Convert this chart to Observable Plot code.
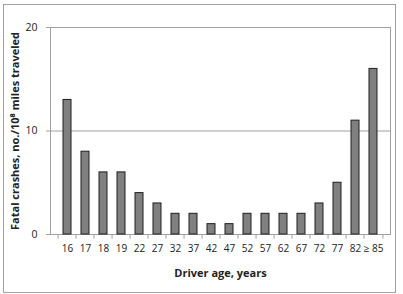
<!DOCTYPE html>
<html>
<head>
<meta charset="utf-8">
<script src="https://cdn.jsdelivr.net/npm/d3@7"></script>
<script src="https://cdn.jsdelivr.net/npm/@observablehq/plot@0.6"></script>
<style>
  body { margin: 0; background: #fff; }
  #wrap { position: relative; width: 403px; height: 294px; }
  #wrap svg { position: absolute; left: 0; top: 0; }
  #border { position: absolute; left: 3px; top: 4px; width: 391px; height: 287px; border: 1px solid #a0a0a0; pointer-events: none; }
</style>
</head>
<body>
<div id="wrap"><div id="border"></div></div>
<script>
const ages = ["16","17","18","19","22","27","32","37","42","47","52","57","62","67","72","77","82","≥ 85"];
const crashes = [13, 8, 6, 6, 4, 3, 2, 2, 1, 1, 2, 2, 2, 2, 3, 5, 11, 16];
const yTicks = [0, 10, 20];
const yTitle = "Fatal crashes, no./10⁸ miles traveled";
const xTitle = "Driver age, years";

const data = ages.map((a, i) => ({age: a, value: crashes[i]}));
const bw = 340 / ages.length;
const font = "'Open Sans', 'Noto Sans', sans-serif";

const chart = Plot.plot({
  width: 403,
  height: 294,
  marginLeft: 50,
  marginRight: 13,
  marginTop: 27,
  marginBottom: 60,
  style: {fontFamily: font, fontSize: "10px", color: "#222", background: "transparent"},
  x: {domain: ages, padding: 0.58, label: null},
  y: {domain: [0, 20], label: null},
  marks: [
    Plot.ruleY(yTicks.filter(d => d > 0), {stroke: "#a0a0a0", strokeWidth: 1}),
    Plot.frame({stroke: "#a0a0a0", strokeWidth: 1}),
    Plot.barY(data, {x: "age", y: "value", fill: "#808080", stroke: "#1e1e1e", strokeWidth: 1}),
    Plot.ruleX(ages, {x: d => d, dx: -bw / 2, y1: 0, y2: -0.45, stroke: "#a0a0a0"}),
    Plot.ruleX([ages[ages.length - 1]], {x: d => d, dx: bw / 2, y1: 0, y2: -0.45, stroke: "#a0a0a0"}),
    Plot.axisX({tickSize: 0, tickPadding: 10, fontSize: 10, fill: "#222"}),
    Plot.axisY({ticks: yTicks, tickSize: 4, tickPadding: 9, stroke: "#a0a0a0", fontSize: 10.5, fill: "#222"}),
    Plot.text([yTitle], {frameAnchor: "left", rotate: -90, dx: -35, fontWeight: "bold", fontSize: 11, fill: "#222", textAnchor: "middle"}),
    Plot.text([xTitle], {frameAnchor: "bottom", dy: 42, fontWeight: "bold", fontSize: 11, fill: "#222", textAnchor: "middle"})
  ]
});
document.getElementById("wrap").appendChild(chart);
</script>
</body>
</html>
